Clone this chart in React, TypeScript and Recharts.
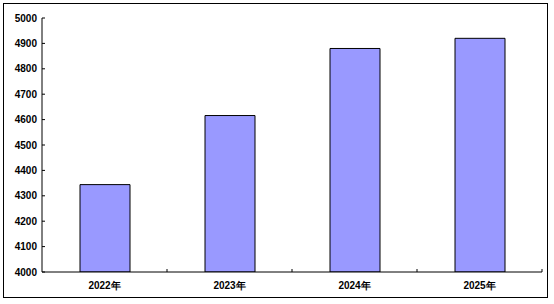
import { BarChart, Bar, XAxis, YAxis } from "recharts";

const years = ["2022年", "2023年", "2024年", "2025年"];
const values = [4344, 4616, 4880, 4920];
const yTicks = [4000, 4100, 4200, 4300, 4400, 4500, 4600, 4700, 4800, 4900, 5000];

const data = years.map((year, i) => ({ year, value: values[i] }));

const W = 554;
const H = 304;
const LEFT = 42;
const RIGHT = 12;
const band = (W - LEFT - RIGHT) / years.length;
const font = "'Liberation Sans', Arial, sans-serif";

function YTick({ x, y, payload }: { x?: number; y?: number; payload?: { value: number } }) {
  return (
    <g>
      <line x1={x} x2={(x ?? 0) + 3} y1={y} y2={y} stroke="#000" strokeWidth={1} />
      <text x={(x ?? 0) - 5} y={(y ?? 0) + 3.5} textAnchor="end" fontSize={10} fontWeight="bold" fontFamily={font} fill="#000">
        {payload?.value}
      </text>
    </g>
  );
}

function XTick({ x, y, payload, index }: { x?: number; y?: number; payload?: { value: string }; index?: number }) {
  const cx = x ?? 0;
  const cy = y ?? 0;
  const isLast = index === years.length - 1;
  return (
    <g>
      {index !== 0 && <line x1={cx - band / 2} x2={cx - band / 2} y1={cy} y2={cy - 3} stroke="#000" strokeWidth={1} />}
      {isLast && <line x1={cx + band / 2} x2={cx + band / 2} y1={cy} y2={cy - 3} stroke="#000" strokeWidth={1} />}
      <text x={cx} y={cy + 17} textAnchor="middle" fontSize={10} fontWeight="bold" fontFamily={font} fill="#000">
        {payload?.value}
      </text>
    </g>
  );
}

export default function App() {
  return (
    <div style={{ position: "absolute", left: 0, top: 0, width: W, height: H, background: "#fff" }}>
      <div
        style={{
          position: "absolute",
          left: 3,
          top: 3,
          width: 545,
          height: 295,
          border: "1.5px solid #000",
          boxSizing: "border-box",
        }}
      />
      <BarChart
        width={W}
        height={H}
        data={data}
        margin={{ top: 18, right: RIGHT, bottom: 0, left: 0 }}
        barSize={50}
        style={{ position: "absolute", left: 0, top: 0 }}
      >
        <XAxis
          dataKey="year"
          height={32}
          axisLine={{ stroke: "#000", strokeWidth: 1 }}
          tickLine={false}
          tickSize={0}
          tickMargin={0}
          interval={0}
          tick={<XTick />}
        />
        <YAxis
          domain={[4000, 5000]}
          ticks={yTicks}
          width={LEFT}
          axisLine={{ stroke: "#000", strokeWidth: 1 }}
          tickLine={false}
          tickSize={0}
          tickMargin={0}
          interval={0}
          allowDataOverflow
          tick={<YTick />}
        />
        <Bar dataKey="value" fill="#9999FF" stroke="#000" strokeWidth={1} isAnimationActive={false} />
      </BarChart>
    </div>
  );
}
